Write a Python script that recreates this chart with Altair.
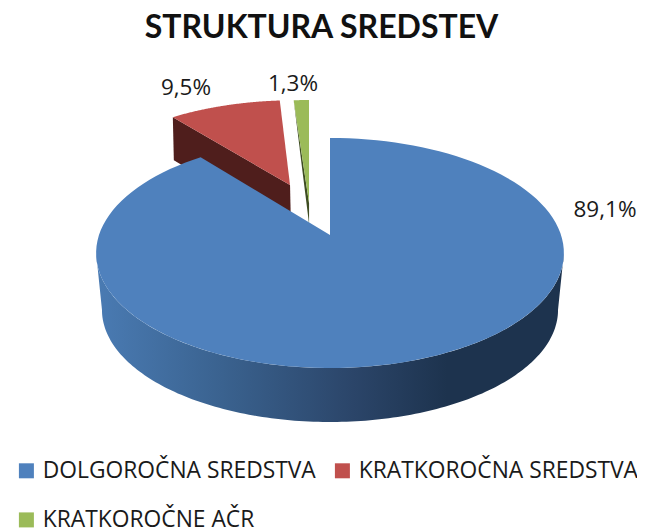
import numpy as np
import pandas as pd
import altair as alt

# --- chart values ---
categories = ["DOLGOROČNA SREDSTVA", "KRATKOROČNA SREDSTVA", "KRATKOROČNE AČR"]
shares = [89.1, 9.5, 1.3]
labels = ["89,1%", "9,5%", "1,3%"]
title = "STRUKTURA SREDSTEV"
colors = ["#4F81BD", "#C0504D", "#9BBB59"]

# --- view geometry of the tilted pie (perspective projection of a unit disk) ---
CX, CY, A, B, K = 330.0, 235.0, 231.0, 112.2, 0.1565
label_xy = [(605, 210), (186, 88), (293, 84)]
explode = [(0.0, 0.0), (-0.186, 0.479), (-0.112, 0.482)]
FONT = "Open Sans"
TITLE_FONT = "Lato"


def project(u, v, drop=0.0, scale=1.0):
    d = 1 + K * v
    return CX + scale * A * u / d, CY + drop + scale * (-B * v / d)


def polygon(us, vs, drop=0.0, scale=1.0):
    x, y = project(np.asarray(us, float), np.asarray(vs, float), drop, scale)
    return pd.DataFrame({"x": x, "y": y, "o": np.arange(len(x))})


def wedge(start, end, off, tip=None):
    t = np.radians(np.linspace(start, end, 120))
    tu, tv = tip if tip else off
    return polygon(np.r_[tu, np.sin(t) + off[0]], np.r_[tv, np.cos(t) + off[1]])


# slices run clockwise from twelve o'clock
total = sum(shares)
a_blue = 360 * shares[0] / total
a_red = a_blue + 360 * shares[1] / total

blue = wedge(0, a_blue, explode[0]).assign(series=categories[0])
red = wedge(a_blue, a_red, explode[1]).assign(series=categories[1])
green_tip = (-0.095, 0.298)
green = wedge(a_red, 360, explode[2], green_tip).assign(series=categories[2])

# rim of the big slice
t = np.radians(np.linspace(99, 261, 160))
x1, y1 = project(np.sin(t), np.cos(t))
x2, y2 = project(np.sin(t), np.cos(t), 57.3, 0.975)
rim = pd.DataFrame({"x": np.r_[x1, x2[::-1]], "y": np.r_[y1, y2[::-1]]})
rim["o"] = np.arange(len(rim))

# cut faces of the two pulled-out slices
ru, rv = np.sin(np.radians(a_blue)) + explode[1][0], np.cos(np.radians(a_blue)) + explode[1][1]
rx, ry = project(np.array([ru, explode[1][0]]), np.array([rv, explode[1][1]]))
red_cut = pd.DataFrame({"x": [rx[0], rx[1], rx[1] + 1, rx[0] + 1],
                        "y": [ry[0], ry[1], ry[1] + 45, ry[0] + 43], "o": range(4)})
gu, gv = np.sin(np.radians(a_red)) + explode[2][0], np.cos(np.radians(a_red)) + explode[2][1]
gx, gy = project(np.array([gu, green_tip[0]]), np.array([gv, green_tip[1]]))
green_cut = pd.DataFrame({"x": [gx[0], gx[1], gx[1]],
                          "y": [gy[0], gy[1], gy[1] + 21], "o": range(3)})

W, TOP, H = 629, 38, 485
xs = alt.Scale(domain=[8, 8 + W], range=[0, W])
ys = alt.Scale(domain=[8 + TOP, 8 + TOP + H], range=[0, H])
X = alt.X("x:Q", scale=xs, axis=None)
Y = alt.Y("y:Q", scale=ys, axis=None)
# legend fills column by column, so the third series is listed second
fill_scale = alt.Scale(domain=[categories[0], categories[2], categories[1]],
                       range=[colors[0], colors[2], colors[1]])


def face(df, fill):
    return alt.Chart(df).mark_line(fill=fill, strokeWidth=0, clip=False).encode(
        x=X, y=Y, order="o:Q")


rim_fill = alt.LinearGradient(
    gradient="linear", x1=0, x2=1, y1=0, y2=0,
    stops=[alt.GradientStop(color="#4A7BB3", offset=0),
           alt.GradientStop(color="#3A628F", offset=0.27),
           alt.GradientStop(color="#2B4569", offset=0.55),
           alt.GradientStop(color="#1D334E", offset=0.75),
           alt.GradientStop(color="#1D334E", offset=1)])

tops = pd.concat([green, red, blue])
top_layer = alt.Chart(tops).mark_line(strokeWidth=0, filled=True).encode(
    x=X, y=Y, order="o:Q",
    detail="series:N",
    fill=alt.Fill("series:N", scale=fill_scale, sort=None, legend=alt.Legend(
        title=None, orient="none", legendX=7, legendY=451 - TOP, columns=2,
        symbolType="square", symbolSize=225, symbolStrokeWidth=0, symbolOpacity=1,
        labelFont=FONT, labelFontSize=22.8, labelColor="#1a1a1a", labelLimit=320,
        rowPadding=25.5, columnPadding=15, labelOffset=5, padding=0)))

lab_df = pd.DataFrame({"x": [p[0] for p in label_xy], "y": [p[1] for p in label_xy], "t": labels})
text_layer = alt.Chart(lab_df).mark_text(
    font=FONT, fontSize=22.5, color="#1a1a1a", align="center", baseline="middle"
).encode(x=X, y=Y, text="t:N")

chart = alt.layer(
    face(green_cut, "#3E4D22"),
    face(red_cut, "#4F1E1C"),
    top_layer.transform_filter(alt.datum.series != categories[0]),
    face(rim, rim_fill),
    top_layer.transform_filter(alt.datum.series == categories[0]),
    text_layer,
).properties(
    width=W, height=H, padding={"left": 0, "right": 0, "top": TOP, "bottom": 0},
    autosize=alt.AutoSizeParams(type="none"),
    title=alt.TitleParams(title, font=TITLE_FONT, fontSize=32, fontWeight="bold", color="#111111",
                          anchor="middle", dx=-1, offset=1),
).configure_view(stroke=None)

chart.save("out.html", embed_options={"renderer": "svg", "actions": False})
